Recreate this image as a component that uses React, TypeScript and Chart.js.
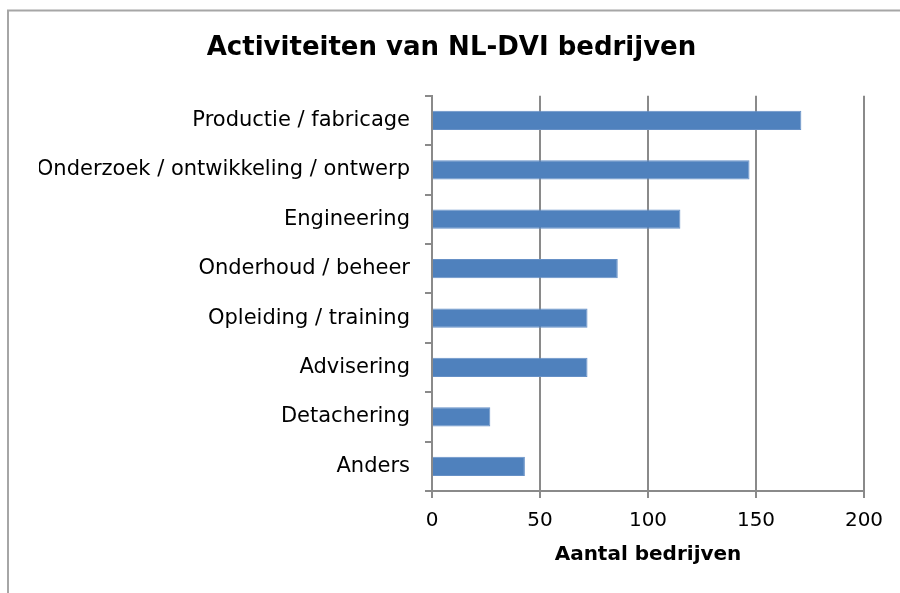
import React, { useEffect, useRef } from "react";
import { Chart, registerables } from "chart.js";

Chart.register(...registerables);

const categories = [
  "Productie / fabricage",
  "Onderzoek / ontwikkeling / ontwerp",
  "Engineering",
  "Onderhoud / beheer",
  "Opleiding / training",
  "Advisering",
  "Detachering",
  "Anders",
];
const values = [171, 147, 115, 86, 72, 72, 27, 43];
const xTicks = [0, 50, 100, 150, 200];
const chartTitle = "Activiteiten van NL-DVI bedrijven";
const xTitle = "Aantal bedrijven";

const FONT = "'DejaVu Sans', Verdana, sans-serif";

const framePlugin = {
  id: "frame",
  beforeDraw(chart: any) {
    const ctx = chart.ctx;
    ctx.save();
    ctx.fillStyle = "#ffffff";
    ctx.fillRect(0, 0, chart.width, chart.height);
    ctx.strokeStyle = "#a6a6a6";
    ctx.lineWidth = 2;
    ctx.beginPath();
    ctx.moveTo(8, chart.height);
    ctx.lineTo(8, 10.5);
    ctx.lineTo(chart.width, 10.5);
    ctx.stroke();
    ctx.restore();
  },
};

export default function App() {
  const ref = useRef<HTMLCanvasElement | null>(null);

  useEffect(() => {
    if (!ref.current) return;
    const chart = new Chart(ref.current, {
      type: "bar",
      data: {
        labels: categories,
        datasets: [
          {
            data: values,
            backgroundColor: "#4F81BD",
            borderColor: "#6690c6",
            borderWidth: 1,
            categoryPercentage: 1,
            barPercentage: 0.39,
          },
        ],
      },
      options: {
        indexAxis: "y",
        animation: false,
        responsive: false,
        layout: { padding: { left: 39, right: 36, top: 0, bottom: 0 } },
        plugins: {
          legend: { display: false },
          tooltip: { enabled: false },
          title: {
            display: true,
            text: chartTitle,
            color: "#000000",
            font: { family: FONT, size: 26, weight: "bold" },
            padding: { top: 33, bottom: 31.5 },
          },
        },
        scales: {
          x: {
            min: 0,
            max: 200,
            afterBuildTicks(scale: any) {
              scale.ticks = xTicks.map((v) => ({ value: v }));
            },
            afterFit(scale: any) {
              scale.height = 102;
            },
            grid: {
              color: "#8a8a8a",
              lineWidth: 2,
              tickLength: 7,
              drawTicks: true,
            },
            border: { display: true, color: "#8a8a8a", width: 2 },
            ticks: {
              color: "#000000",
              font: { family: FONT, size: 20 },
              padding: 11,
              maxRotation: 0,
            },
            title: {
              display: true,
              text: xTitle,
              color: "#000000",
              font: { family: FONT, size: 20, weight: "bold" },
              padding: { top: 0, bottom: 26 },
            },
          },
          y: {
            afterFit(scale: any) {
              scale.width = 393;
            },
            grid: {
              drawOnChartArea: false,
              offset: true,
              color: "#8a8a8a",
              lineWidth: 2,
              tickLength: 7,
            },
            border: { display: true, color: "#8a8a8a", width: 2 },
            ticks: {
              color: "#000000",
              font: { family: FONT, size: 21 },
              padding: 15,
            },
          },
        },
      },
      plugins: [framePlugin],
    });
    return () => chart.destroy();
  }, []);

  return (
    <div style={{ position: "fixed", left: 0, top: 0, width: 900, height: 593, background: "#fff" }}>
      <canvas ref={ref} width={900} height={593} style={{ display: "block" }} />
    </div>
  );
}
